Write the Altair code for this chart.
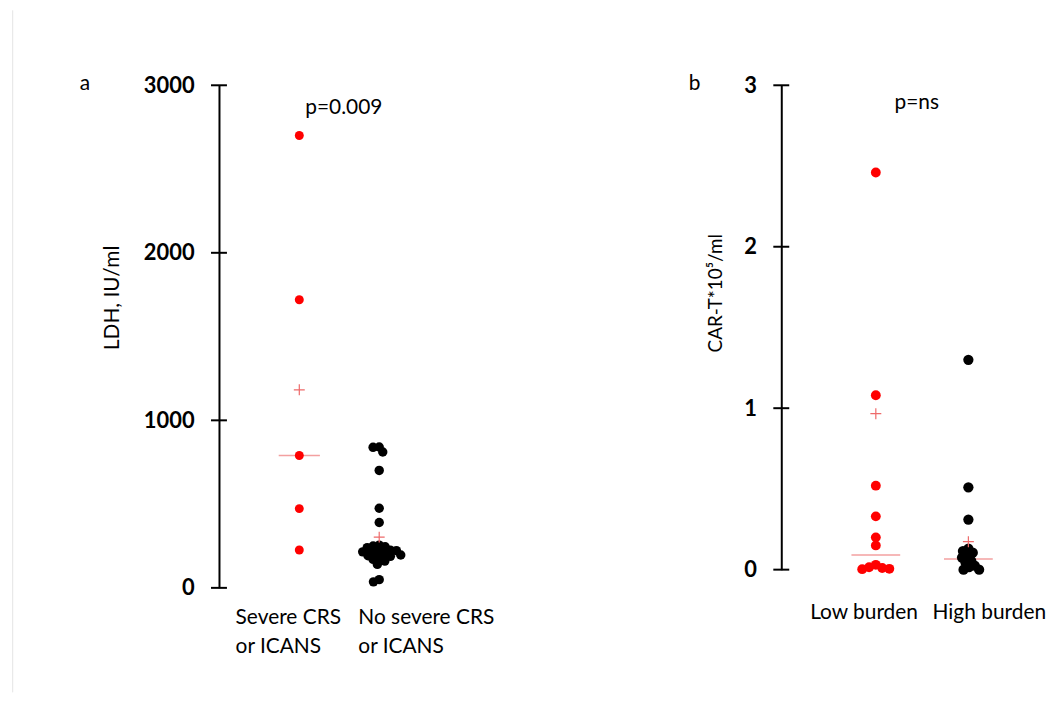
import math
import pandas as pd
import altair as alt

# ---------------- data ----------------
# panel a: LDH, IU/ml
a_groups = ["Severe CRS or ICANS", "No severe CRS or ICANS"]
a_labels = ["Severe CRS\nor ICANS", "No severe CRS\nor ICANS"]
a_severe = [2700, 1720, 790, 473, 226]
a_no_severe = [841, 839, 811, 701, 475, 390,
               255, 250, 245, 240, 225, 222, 218, 215, 212, 200, 196, 192,
               188, 175, 170, 160, 140, 49, 36]
a_means = [1182, 303]
a_medians = [790, 215]
a_ticks = [0, 1000, 2000, 3000]
a_pvalue = "p=0.009"

# panel b: CAR-T*10^5/ml
b_groups = ["Low burden", "High burden"]
b_labels = ["Low burden", "High burden"]
b_low = [2.46, 1.08, 0.52, 0.33, 0.20, 0.15, 0.03, 0.015, 0.01, 0.005, 0.003]
b_high = [1.30, 0.51, 0.31, 0.13, 0.115, 0.105, 0.085, 0.075, 0.055, 0.045,
          0.025, 0.015, 0.0, 0.0]
b_means = [0.966, 0.173]
b_medians = [0.09, 0.066]
b_ticks = [0, 1, 2, 3]
b_pvalue = "p=ns"

# ---------------- layout / style ----------------
FONT = "Lato"
RED = "#ff0000"
PINK_LINE = "#f3a0a0"
PINK_PLUS = "#ee6a6a"
PLUS = "M-1,0L1,0M0,-1L0,1"


def swarm(values, ppu, mind):
    """simple beeswarm: offsets (px) so that dots do not overlap too much"""
    placed = []
    xs = [0.0] * len(values)
    order = sorted(range(len(values)), key=lambda i: -values[i])
    for i in order:
        y = values[i] * ppu
        cands = [0.0]
        for px, py in placed:
            dy = abs(py - y)
            if dy < mind:
                dx = math.sqrt(mind ** 2 - dy ** 2)
                cands += [px - dx, px + dx]
        cands.sort(key=lambda c: (round(abs(c), 6), c))
        for c in cands:
            if all((c - px) ** 2 + (y - py) ** 2 >= mind ** 2 - 1e-6 for px, py in placed):
                xs[i] = c
                break
        placed.append((xs[i], y))
    return xs


def panel(values_by_group, groups, labels, colors, diam, centers, dom, W, H,
          ticks, title, title_size, title_x, title_y, means, medians, med_half,
          letter, letter_x, pval, pval_x, pval_y, label_xs, label_y, anchor_x,
          frame=False):
    ppu = H / (dom[1] - dom[0])
    rows = []
    for g, vals, c, d in zip(groups, values_by_group, centers, diam):
        offs = swarm(vals, ppu, 0.6 * d)
        for v, o in zip(vals, offs):
            rows.append({"group": g, "value": v, "px": c + o})
    pts = pd.DataFrame(rows)

    xs = alt.Scale(domain=[0, W], nice=False, zero=False)
    ys = alt.Scale(domain=dom, nice=False, zero=False)
    axis = alt.Axis(values=ticks, format="d", ticks=False, grid=False,
                    domainColor="black", domainWidth=2,
                    labelFont=FONT, labelFontWeight="bold", labelFontSize=22,
                    labelColor="black", labelPadding=25,
                    title=title, titleFont=FONT, titleFontWeight="normal",
                    titleFontSize=title_size, titleColor="black",
                    titleX=title_x, titleY=title_y, titleAngle=270,
                    titleAlign="center", titleBaseline="alphabetic")

    def Y(f):
        return alt.Y(f"{f}:Q", scale=ys, axis=axis)

    def X(f):
        return alt.X(f"{f}:Q", scale=xs, axis=None)

    anchor = alt.Chart(pd.DataFrame({"k": [0]})).mark_rule(
        color="white", strokeWidth=1).encode(
        x=alt.value(anchor_x), x2=alt.value(anchor_x + 1), y=alt.value(-75.3))

    layers = [anchor]
    if frame:
        edge = alt.Chart(pd.DataFrame({"k": [0]})).mark_rule(
            color="#e4e4e4", strokeWidth=1).encode(
            x=alt.value(anchor_x + 4), y=alt.value(-75.3), y2=alt.value(610))
        layers.append(edge)

    tick_rules = alt.Chart(pd.DataFrame({"tick": ticks})).mark_rule(
        color="black", strokeWidth=2).encode(
        x=alt.value(-8), x2=alt.value(8), y=Y("tick"))

    mdf = pd.DataFrame({"group": groups, "median": medians,
                        "x0": [c - med_half for c in centers],
                        "x1": [c + med_half for c in centers]})
    med = alt.Chart(mdf).mark_rule(color=PINK_LINE, strokeWidth=1.5).encode(
        x=X("x0"), x2="x1:Q", y=Y("median"))

    dots = alt.Chart(pts).mark_circle(opacity=1).encode(
        x=X("px"), y=Y("value"),
        color=alt.Color("group:N", scale=alt.Scale(domain=groups, range=colors), legend=None),
        size=alt.Size("group:N", scale=alt.Scale(domain=groups, range=[d * d for d in diam]), legend=None))

    meandf = pd.DataFrame({"group": groups, "mean": means, "xc": centers})
    mean_pts = alt.Chart(meandf).mark_point(
        shape=PLUS, filled=False, size=121, strokeWidth=1.2, color=PINK_PLUS, opacity=1).encode(
        x=X("xc"), y=Y("mean"))

    letter_t = alt.Chart(pd.DataFrame({"t": [letter]})).mark_text(
        font=FONT, fontSize=21, align="left", baseline="alphabetic", color="black").encode(
        text="t:N", x=alt.value(letter_x), y=alt.value(4.7))

    pval_t = alt.Chart(pd.DataFrame({"t": [pval]})).mark_text(
        font=FONT, fontSize=21, align="left", baseline="alphabetic", color="black").encode(
        text="t:N", x=alt.value(pval_x), y=alt.value(pval_y))

    ldf = pd.DataFrame({"label": labels, "lx": label_xs})
    label_t = alt.Chart(ldf).mark_text(
        font=FONT, fontSize=21, align="left", baseline="alphabetic", color="black",
        lineBreak="\n", lineHeight=28.3).encode(
        text="label:N", x=X("lx"), y=alt.value(label_y))

    layers += [med, tick_rules, dots, mean_pts, letter_t, pval_t, label_t]
    return alt.layer(*layers).properties(width=W, height=H)


left = panel([a_severe, a_no_severe], a_groups, a_labels, [RED, "black"], [9, 10.3],
             [80.7, 161], [0, 3000], 300, 505, a_ticks, "LDH, IU/ml", 21, -101.3, 213.2,
             a_means, a_medians, 20.7, "a", -140, a_pvalue, 86.7, 28.4,
             [16.7, 140], 541.7, -211.3, frame=True)

right = panel([b_low, b_high], b_groups, b_labels, [RED, "black"], [12, 10],
              [95, 188], [0, 3], 257, 486.7, b_ticks, "CAR-T*10\u2075/ml", 19, -60, 208.4,
              b_means, b_medians, 24.5, "b", -93, b_pvalue, 113.7, 23.7,
              [29, 152], 536.7, -263.7)

chart = alt.hconcat(left, right, spacing=0).properties(
    padding=0, background="white").configure_view(stroke=None)

chart.save("out.html", embed_options={"renderer": "svg", "actions": False})
